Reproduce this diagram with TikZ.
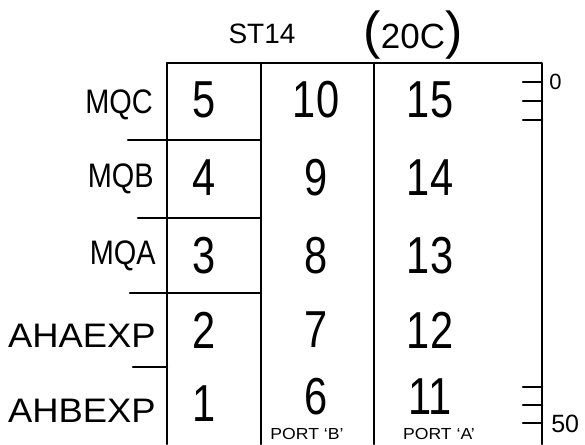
\documentclass[tikz,border=0pt]{standalone}
\usepackage{fontspec}
\setmainfont{Liberation Sans}
\begin{document}
\begin{tikzpicture}[x=1pt,y=-1pt,line width=2.5pt,line join=round,line cap=round,
		num/.style={font=\fontsize{52}{52}\selectfont,inner sep=0pt},
		lbl/.style={font=\fontsize{34}{34}\selectfont,anchor=east,inner sep=0pt},
		port/.style={font=\fontsize{16}{16}\selectfont,inner sep=0pt},
		scl/.style={font=\fontsize{22}{22}\selectfont,anchor=west,inner sep=0pt}]
				\useasboundingbox (0,0) rectangle (585,444);
				\coordinate (TL) at (167,63);
				\coordinate (TR) at (542,63);
				\coordinate (BL) at (167,444);
				\coordinate (BR) at (542,444);
				\coordinate (TB) at (261,63);   
				\coordinate (BB) at (261,444);  
				\coordinate (TA) at (374,63);   
				\coordinate (BA) at (374,444);  
				
				\draw (TL) -- (TR) -- (BR);
				\draw (TL) -- (BL);
				\draw (TB) -- (BB);
				\draw (TA) -- (BA);
				
				\draw (128,140) -- (TB |- 0,140);
				\draw (138,218) -- (TB |- 0,218);
				\draw (130,293) -- (TB |- 0,293);
				\draw (133,367) -- (TL |- 0,367);
				
				\foreach \y in {82,101,120,387,405,423}
				\draw (523,\y) -- (TR |- 0,\y);
				
				\foreach \n/\x/\y in {5/204/100,4/204/178,3/204/256,2/204/330,1/204/404,
					10/316/100,9/316/178,8/316/256,7/316/330,6/316/397,
					15/430/100,14/430/178,13/430/256,12/430/330,11/430/397}
				\node[num] (n\n) at (\x,\y) {\scalebox{0.8}[1]{\n}};
				
				\path (154,105) node[lbl] (mqc) {\scalebox{0.85}[1]{MQC}};
				\path (155,179) node[lbl] (mqb) {\scalebox{0.85}[1]{MQB}};
				\path (157,256) node[lbl] (mqa) {\scalebox{0.85}[1]{MQA}};
				\path (157,336) node[lbl] (ahaexp) {\scalebox{1.07}[1]{AHAEXP}};
				\path (157,411) node[lbl] (ahbexp) {\scalebox{1.07}[1]{AHBEXP}};
				
				\path (262,34) node[font=\fontsize{28}{28}\selectfont] (st) {ST14};
				\path (413,35) node[font=\fontsize{35}{35}\selectfont] (cab)
					{{\fontsize{52}{52}\selectfont(}20C{\fontsize{52}{52}\selectfont)}};
				
				\path (307,434) node[port] (portb) {\scalebox{1.1}[1]{PORT `B'}};
				\path (439,434) node[port] (porta) {\scalebox{1.1}[1]{PORT `A'}};
				
				\path (548,82) node[scl] (s0) {0};
				\path (550,424) node[scl,font=\fontsize{25}{25}\selectfont] (s50) {50};
			\end{tikzpicture}
\end{document}
